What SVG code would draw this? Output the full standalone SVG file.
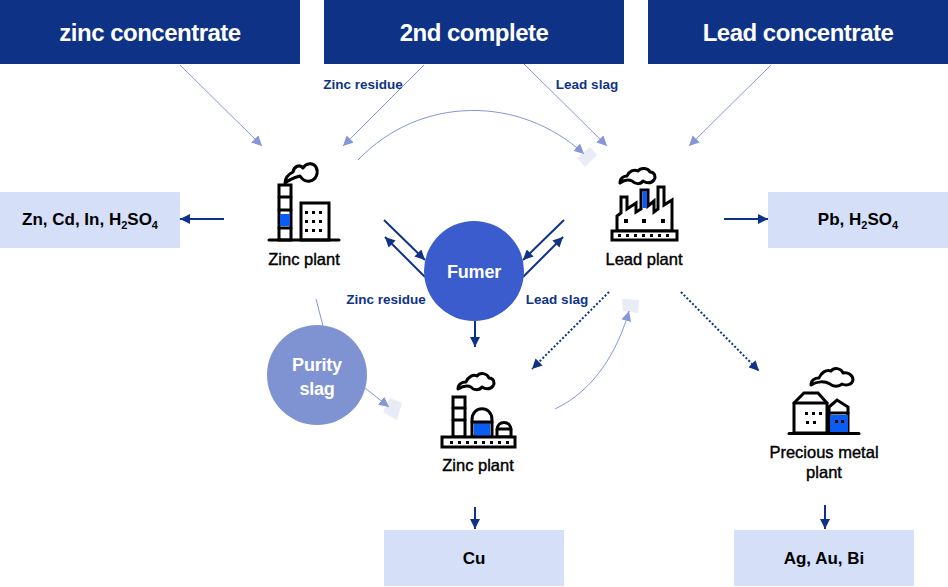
<svg xmlns="http://www.w3.org/2000/svg" width="948" height="587" viewBox="0 0 948 587">
<style>
text{font-family:"Liberation Sans",Arial,sans-serif;font-weight:700;text-anchor:middle}
.hd{font-size:24px;fill:#fff;letter-spacing:-.5px}
.lb{font-size:17px;fill:#000}
.pl{font-size:16.500px;fill:#000;font-weight:400;stroke:#000;stroke-width:.4}
.nv{font-size:13.500px;fill:#0e3386}
.ct{font-size:18px;fill:#fff;letter-spacing:-.2px}
.hb{fill:#0e3386}
.ob{fill:#d5dff8}
.thin{fill:none;stroke:#8496d6;stroke-width:1}
.dk{fill:none;stroke:#0e3386;stroke-width:2}
.dot{fill:none;stroke:#0e3386;stroke-width:2;stroke-dasharray:2 2}
.ic{fill:none;stroke:#000;stroke-width:3;stroke-linejoin:round;stroke-linecap:round}
.icf{fill:#fff;stroke:#000;stroke-width:3;stroke-linejoin:miter}
.bl{fill:#0b5cf0}
.k{fill:#000}
.pad{fill:#e8ecf7}
</style>
<defs>
<marker id="lt" markerUnits="userSpaceOnUse" markerWidth="11" markerHeight="10" refX="10" refY="5" orient="auto"><path d="M0 0L10 5L0 10z" fill="#8496d6"/></marker>
<marker id="dk" markerUnits="userSpaceOnUse" markerWidth="11" markerHeight="10" refX="10" refY="5" orient="auto"><path d="M0 0L10 5L0 10z" fill="#0e3386"/></marker>
</defs>

<g id="source-zinc"><rect class="hb" x="0" y="0" width="300" height="64"/><text class="hd" x="150" y="41">zinc concentrate</text></g>
<g id="source-2nd"><rect class="hb" x="324" y="0" width="300" height="64"/><text class="hd" x="474" y="41">2nd complete</text></g>
<g id="source-lead"><rect class="hb" x="648" y="0" width="300" height="64"/><text class="hd" x="798" y="41">Lead concentrate</text></g>

<g id="pads">
<path class="pad" d="M577 158L590 147L597 155L585 167z"/>
<path class="pad" d="M622 299L639 300L638 313L623 311z"/>
<path class="pad" d="M390 398L402 403L397 420L383 412z"/>
</g>

<g id="connectors">
<path class="thin" marker-end="url(#lt)" d="M180 65L262 146"/>
<path class="thin" marker-end="url(#lt)" d="M424 65L343 146"/>
<path class="thin" marker-end="url(#lt)" d="M524 64L607 146"/>
<path class="thin" marker-end="url(#lt)" d="M771 65L689 146"/>
<path class="thin" marker-end="url(#lt)" d="M358 160C420 95 520 95 584 154"/>
<path class="thin" d="M316 299L323 326"/>
<path class="thin" marker-end="url(#lt)" d="M365 388L389 407"/>
<path class="thin" marker-end="url(#lt)" d="M555 409C595 390 618 350 629 311"/>
<path class="dk" marker-end="url(#dk)" d="M224 219L180 219"/>
<path class="dk" marker-end="url(#dk)" d="M724 219L768 219"/>
<path class="dk" marker-end="url(#dk)" d="M384 220L425 260"/>
<path class="dk" marker-end="url(#dk)" d="M425 277L385 237"/>
<path class="dk" marker-end="url(#dk)" d="M564 220L523 260"/>
<path class="dk" marker-end="url(#dk)" d="M523 277L563 237"/>
<path class="dk" marker-end="url(#dk)" d="M475 321L475 347"/>
<path class="dot" marker-end="url(#dk)" d="M609 292L532 369"/>
<path class="dot" marker-end="url(#dk)" d="M681 292L759 371"/>
<path class="dk" marker-end="url(#dk)" d="M475 507L475 529"/>
<path class="dk" marker-end="url(#dk)" d="M825 505L825 529"/>
</g>

<g id="out-zn"><rect class="ob" x="0" y="192" width="180" height="56"/><text class="lb" x="90" y="225">Zn, Cd, In, H<tspan dy="4" font-size="11">2</tspan><tspan dy="-4">SO</tspan><tspan dy="4" font-size="11">4</tspan></text></g>
<g id="out-pb"><rect class="ob" x="768" y="192" width="180" height="56"/><text class="lb" x="858" y="225">Pb, H<tspan dy="4" font-size="11">2</tspan><tspan dy="-4">SO</tspan><tspan dy="4" font-size="11">4</tspan></text></g>
<g id="out-cu"><rect class="ob" x="384" y="530" width="180" height="56"/><text class="lb" x="474" y="564">Cu</text></g>
<g id="out-ag"><rect class="ob" x="734" y="530" width="180" height="56"/><text class="lb" x="824" y="564">Ag, Au, Bi</text></g>

<g id="fumer"><circle cx="474" cy="271" r="50" fill="#3a5ccc"/><text class="ct" x="474" y="278">Fumer</text></g>
<g id="purity"><circle cx="317" cy="375" r="50" fill="#7f93d3"/><text class="ct" x="317" y="371">Purity</text><text class="ct" x="317" y="395">slag</text></g>

<text class="nv" x="363" y="89">Zinc residue</text>
<text class="nv" x="587" y="89">Lead slag</text>
<text class="nv" x="386" y="304">Zinc residue</text>
<text class="nv" x="557" y="304">Lead slag</text>

<g id="zinc-plant-1">
<path class="ic" d="M285 183C285 177 289 174 293 172C294 166 300 164 303 168C306 163 313 162 316 167C319 173 316 180 310 181C305 182 302 179 300 176C296 177 291 178 285 183z"/>
<rect class="icf" x="279" y="185" width="12" height="55"/>
<path class="ic" d="M279 197H291M279 210H291M279 228H291"/>
<rect class="bl" x="280" y="214" width="10" height="12"/>
<rect class="icf" x="301" y="203" width="28" height="37"/>
<path class="ic" d="M269 240H339"/>
<path d="M305 211h3v3h-3zM312 211h3v3h-3zM319 211h3v3h-3zM305 220h3v3h-3zM312 220h3v3h-3zM319 220h3v3h-3zM305 229h3v3h-3zM312 229h3v3h-3zM319 229h3v3h-3z" class="k"/>
<text class="pl" x="304" y="265">Zinc plant</text>
</g>

<g id="lead-plant">
<path class="ic" d="M620 183C620 178 624 176 627 176C629 171 634 169 638 171C641 167 648 168 650 172C655 172 656 177 654 180C651 184 646 183 643 181C640 185 635 184 632 181C628 179 624 180 620 183z"/>
<path class="icf" d="M617 231V216L621 213V197H627V209L636 203V212L641 209V190H648V206L654 201V212L658 209V187H664V205L672 200V231z"/>
<rect class="bl" x="642.500" y="191" width="4.500" height="17"/>
<rect class="icf" x="612" y="231" width="65" height="9"/>
<path class="k" d="M624 219h4v4h-4zM642 219h4v4h-4zM661 219h4v4h-4zM618 234h3v3h-3zM626 234h3v3h-3zM634 234h3v3h-3zM642 234h3v3h-3zM650 234h3v3h-3zM658 234h3v3h-3zM666 234h3v3h-3z"/>
<text class="pl" x="644" y="265">Lead plant</text>
</g>

<g id="zinc-plant-2">
<path class="ic" d="M458 389C458 384 462 382 466 382C468 377 473 374 477 376C480 372 487 373 489 378C494 378 495 383 493 386C490 390 485 389 482 387C479 391 473 390 471 387C467 385 463 386 458 389z"/>
<rect class="icf" x="453" y="397" width="12" height="40"/>
<path class="ic" d="M453 408H465M453 420H465"/>
<path class="icf" d="M472 437V420C472 405 492 405 492 420V437z"/>
<rect class="bl" x="474" y="423" width="16" height="13"/>
<path class="ic" d="M472 422H492"/>
<path class="icf" d="M497 437V430C497 420 511 420 511 430V437z"/>
<path class="ic" d="M497 429H511"/>
<rect class="icf" x="442" y="437" width="73" height="10"/>
<path class="k" d="M450 441h3v3h-3zM458 441h3v3h-3zM466 441h3v3h-3zM474 441h3v3h-3zM482 441h3v3h-3zM490 441h3v3h-3zM498 441h3v3h-3zM506 441h3v3h-3z"/>
<text class="pl" x="478" y="471">Zinc plant</text>
</g>

<g id="precious-plant">
<path class="ic" d="M811 385C811 380 815 378 819 378C821 373 826 369 831 371C834 367 841 368 843 373C848 372 853 375 853 380C852 385 846 386 842 384C839 387 833 387 830 384C825 381 817 381 811 385z"/>
<path class="icf" d="M794 403L804 393H818L827 403V433H794z"/>
<path class="ic" d="M794 403H827"/>
<path class="icf" d="M829 407L837 400L848 407V433H829z"/>
<rect class="bl" x="830" y="415" width="18" height="17"/>
<path class="ic" d="M829 413H848"/>
<path class="ic" d="M789 433.500H859"/>
<path class="k" d="M805 412h3v3h-3zM812 412h3v3h-3zM819 412h3v3h-3zM806 421h3v3h-3zM813 421h3v3h-3zM835 420h3v3h-3zM841 420h3v3h-3z"/>
<text class="pl" x="824" y="458">Precious metal</text>
<text class="pl" x="824" y="478">plant</text>
</g>
</svg>
